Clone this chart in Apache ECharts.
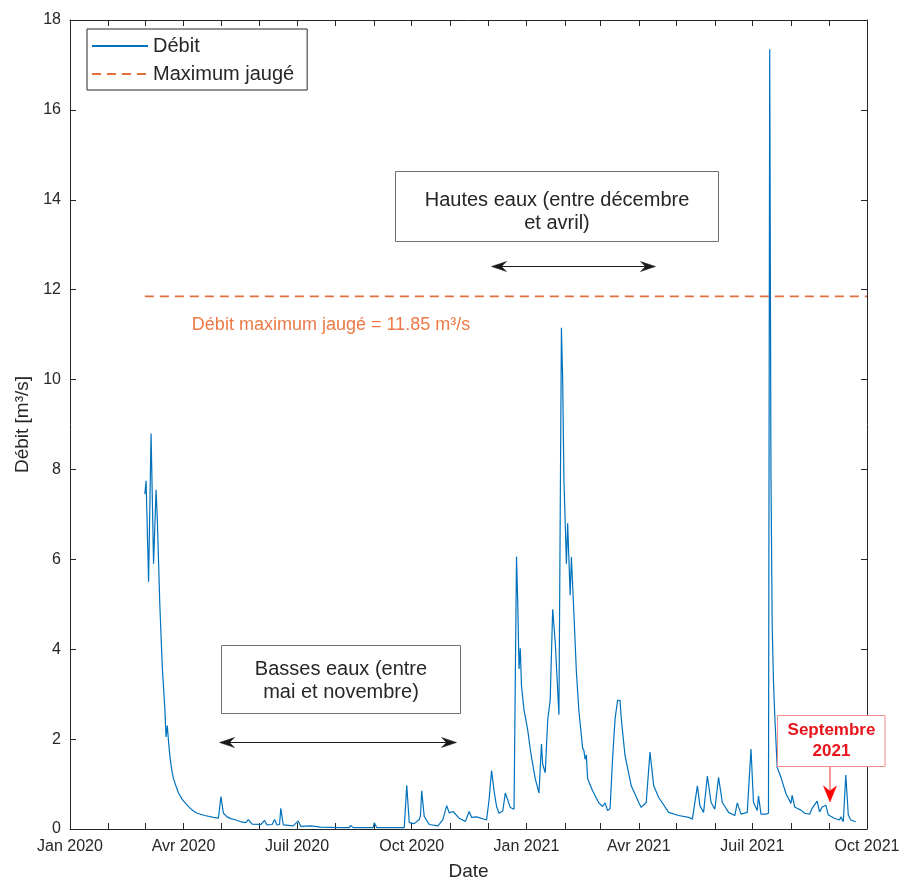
<!DOCTYPE html>
<html><head><meta charset="utf-8">
<script src="https://cdn.jsdelivr.net/npm/echarts@6/dist/echarts.min.js"></script>
<style>html,body{margin:0;padding:0;background:#fff}#c{width:904px;height:886px}</style>
</head><body><div id="c"></div>
<script>
// ---- data ----
const flowDates = [
'2020-03-01','2020-03-02','2020-03-04','2020-03-06','2020-03-08','2020-03-10','2020-03-11','2020-03-13','2020-03-15','2020-03-17',
'2020-03-18','2020-03-19','2020-03-20','2020-03-21','2020-03-22','2020-03-23','2020-03-24','2020-03-26','2020-03-28','2020-03-31',
'2020-04-03','2020-04-06','2020-04-09','2020-04-12','2020-04-18',
'2020-04-25','2020-04-29','2020-05-01','2020-05-03','2020-05-06','2020-05-09','2020-05-10','2020-05-13','2020-05-17','2020-05-21',
'2020-05-23','2020-05-26','2020-06-02','2020-06-05','2020-06-07','2020-06-11','2020-06-13','2020-06-15','2020-06-17','2020-06-18',
'2020-06-20','2020-06-28','2020-07-02','2020-07-04','2020-07-12','2020-07-20','2020-08-05','2020-08-12','2020-08-13','2020-08-15',
'2020-08-31','2020-09-01','2020-09-03','2020-09-25','2020-09-27','2020-09-29','2020-10-03','2020-10-07','2020-10-08','2020-10-09',
'2020-10-11','2020-10-15','2020-10-22','2020-10-26','2020-10-29','2020-10-31','2020-11-03','2020-11-08','2020-11-13','2020-11-16',
'2020-11-18','2020-11-22','2020-11-30','2020-12-02','2020-12-04','2020-12-06','2020-12-08','2020-12-10','2020-12-13','2020-12-15','2020-12-19',
'2020-12-22','2020-12-24','2020-12-25','2020-12-26','2020-12-27','2020-12-28','2020-12-30','2021-01-02','2021-01-04','2021-01-06','2021-01-08','2021-01-11','2021-01-13',
'2021-01-14','2021-01-16','2021-01-18','2021-01-20','2021-01-22','2021-01-24','2021-01-27','2021-01-29','2021-01-30','2021-01-31',
'2021-02-02','2021-02-03','2021-02-05','2021-02-06','2021-02-08','2021-02-10','2021-02-12','2021-02-15','2021-02-16','2021-02-17','2021-02-18',
'2021-02-19','2021-02-23','2021-02-28','2021-03-03','2021-03-05','2021-03-07','2021-03-09','2021-03-11','2021-03-13','2021-03-15',
'2021-03-17','2021-03-18','2021-03-21','2021-03-26','2021-04-01','2021-04-03','2021-04-07','2021-04-10','2021-04-13','2021-04-17',
'2021-04-25','2021-05-03','2021-05-11','2021-05-14','2021-05-18','2021-05-20','2021-05-23','2021-05-26','2021-05-29','2021-06-01',
'2021-06-04','2021-06-07','2021-06-12','2021-06-17','2021-06-19','2021-06-22','2021-06-27','2021-06-30','2021-07-02','2021-07-05',
'2021-07-06','2021-07-08','2021-07-12','2021-07-14','2021-07-15','2021-07-16','2021-07-17','2021-07-18','2021-07-19','2021-07-21',
'2021-07-24','2021-07-28','2021-08-01','2021-08-02','2021-08-04','2021-08-06','2021-08-09','2021-08-12','2021-08-16','2021-08-18',
'2021-08-22','2021-08-24','2021-08-26','2021-08-29','2021-08-31','2021-09-05','2021-09-09','2021-09-10','2021-09-12','2021-09-14',
'2021-09-16','2021-09-18','2021-09-22'
];
const flowValues = [
7.45,7.75,5.5,8.8,5.9,7.55,6.9,5.0,3.6,2.7,
2.05,2.3,1.95,1.65,1.42,1.25,1.12,0.95,0.8,0.66,
0.56,0.47,0.4,0.35,0.3,
0.26,0.24,0.72,0.35,0.27,0.23,0.27,0.2,0.16,0.14,
0.21,0.11,0.1,0.19,0.09,0.1,0.21,0.09,0.1,0.46,
0.09,0.07,0.18,0.06,0.07,0.04,0.03,0.03,0.08,0.03,
0.03,0.14,0.03,0.03,0.97,0.14,0.12,0.21,0.3,0.85,
0.28,0.1,0.07,0.21,0.52,0.36,0.39,0.24,0.17,0.39,
0.26,0.27,0.2,0.65,1.3,0.85,0.5,0.35,0.4,0.8,0.48,
0.44,6.06,5.0,3.56,4.02,3.18,2.65,2.2,1.78,1.44,1.12,0.8,1.89,
1.44,1.25,2.42,2.88,4.89,4.17,2.54,11.15,10.0,7.8,
5.9,6.8,5.2,6.05,4.8,3.5,2.63,1.8,1.75,1.55,1.65,
1.12,0.85,0.58,0.5,0.58,0.41,0.45,1.56,2.45,2.86,
2.86,2.45,1.63,0.96,0.59,0.48,0.59,1.71,0.96,0.7,
0.37,0.3,0.26,0.22,0.96,0.52,0.37,1.18,0.59,0.44,
1.15,0.59,0.37,0.3,0.58,0.33,0.37,1.78,0.59,0.41,
0.74,0.33,0.33,0.35,17.35,7.9,4.5,3.3,2.55,1.37,
1.15,0.79,0.57,0.75,0.49,0.46,0.42,0.35,0.33,0.46,
0.62,0.38,0.49,0.53,0.31,0.24,0.2,0.27,0.16,1.2,
0.31,0.2,0.16
];
const maxDates = ['2020-03-01','2021-10-01'];
const maxValues = [11.85, 11.85];
const seriesNames = ['Débit','Maximum jaugé'];
const tickLabels = ['Jan 2020','Avr 2020','Juil 2020','Oct 2020','Jan 2021','Avr 2021','Juil 2021','Oct 2021'];
const labelDates = ['2020-01-01','2020-04-01','2020-07-01','2020-10-01','2021-01-01','2021-04-01','2021-07-01','2021-10-01'];
const xMinDate = '2020-01-01', xMaxDate = '2021-10-01';
const yMin = 0, yMax = 18, yStep = 2;

// ---- helpers ----
function ts(s){ const p = s.split('-').map(Number); return new Date(p[0], p[1]-1, p[2]).getTime(); }
const monthTicks = [];
for (let t = new Date(2020,0,1); t.getTime() <= ts(xMaxDate); t = new Date(t.getFullYear(), t.getMonth()+1, 1)) monthTicks.push(t.getTime());
const labelTs = labelDates.map(ts);
function fmt(v){ for (let i=0;i<labelTs.length;i++){ if (Math.abs(labelTs[i]-v) < 43200000) return tickLabels[i]; } return ''; }

const F = '"Liberation Sans", Arial, Helvetica, sans-serif';
const AX = '#262626';
const BLUE = '#0072BD';
const ORANGE = '#E0703C';

function arrowHead(tx, ty, dx, dy, len, half, notch, color){
  const px = -dy, py = dx;
  const bx = tx - dx*len, by = ty - dy*len;
  const nx = tx - dx*notch, ny = ty - dy*notch;
  return {type:'polygon', z:102, shape:{points:[[tx,ty],[bx+px*half,by+py*half],[nx,ny],[bx-px*half,by-py*half]]}, style:{fill:color, stroke:color, lineWidth:0.5}};
}
function doubleArrow(x1, x2, y, color){
  return [
    {type:'line', z:101, shape:{x1:x1+8, y1:y, x2:x2-8, y2:y}, style:{stroke:color, lineWidth:1}},
    arrowHead(x1, y, -1, 0, 15, 5, 10, color),
    arrowHead(x2, y, 1, 0, 15, 5, 10, color)
  ];
}
function textBox(x, y, w, h, text, cy, stroke){
  return [
    {type:'rect', z:100, shape:{x:x, y:y, width:w, height:h}, style:{fill:'#fff', stroke:stroke, lineWidth:1}},
    {type:'text', z:101, style:{text:text, x:x+w/2, y:cy, align:'center', verticalAlign:'middle', fontSize:20, fontFamily:F, lineHeight:23, fill:AX}}
  ];
}

const chart = echarts.init(document.getElementById('c'), null, {renderer:'canvas'});
const xCommon = {
  type:'value', min: ts(xMinDate), max: ts(xMaxDate), scale:true,
  axisLine:{show:true, onZero:false, lineStyle:{color:AX, width:1}},
  splitLine:{show:false}
};
const yCommon = {
  type:'value', min:yMin, max:yMax, interval:yStep,
  axisLine:{show:true, lineStyle:{color:AX, width:1}},
  splitLine:{show:false}
};

const option = {
  animation:false,
  backgroundColor:'#fff',
  grid:{left:70, right:37, top:20, bottom:56, containLabel:false},
  legend:{
    data:seriesNames, orient:'vertical', left:87, top:29,
    backgroundColor:'#fff', borderColor:AX, borderWidth:1, borderRadius:0,
    padding:[5,13,4,4], itemGap:4, itemWidth:56, itemHeight:14,
    itemStyle:{opacity:0, borderWidth:0},
    textStyle:{fontSize:20, fontFamily:F, color:AX, lineHeight:24},
    z:50
  },
  xAxis:[
    Object.assign({}, xCommon, {
      position:'bottom',
      name:'Date', nameLocation:'middle', nameGap:33,
      nameTextStyle:{fontSize:19, fontFamily:F, color:AX},
      axisTick:{show:true, inside:true, length:6, customValues:monthTicks, lineStyle:{color:AX}},
      axisLabel:{show:true, customValues:labelTs, formatter:fmt, fontSize:16, fontFamily:F, color:AX, margin:10, hideOverlap:false}
    }),
    Object.assign({}, xCommon, {
      position:'top',
      axisTick:{show:true, inside:true, length:6, customValues:monthTicks, lineStyle:{color:AX}},
      axisLabel:{show:false}
    })
  ],
  yAxis:[
    Object.assign({}, yCommon, {
      position:'left',
      name:'Débit [m³/s]', nameLocation:'middle', nameGap:36,
      nameTextStyle:{fontSize:19, fontFamily:F, color:AX},
      axisTick:{show:true, inside:true, length:6, lineStyle:{color:AX}},
      axisLabel:{fontSize:16, fontFamily:F, color:AX, margin:9}
    }),
    Object.assign({}, yCommon, {
      position:'right',
      axisTick:{show:true, inside:true, length:6, lineStyle:{color:AX}},
      axisLabel:{show:false}
    })
  ],
  series:[
    {
      name:seriesNames[0], type:'line', xAxisIndex:0, yAxisIndex:0,
      data: flowDates.map((d,i)=>[ts(d), flowValues[i]]),
      symbol:'none', showSymbol:false, smooth:false,
      lineStyle:{color:BLUE, width:1.2}, itemStyle:{color:BLUE}, z:3
    },
    {
      name:seriesNames[1], type:'line', xAxisIndex:0, yAxisIndex:0,
      data: maxDates.map((d,i)=>[ts(d), maxValues[i]]),
      symbol:'none', showSymbol:false,
      lineStyle:{color:ORANGE, width:1.6, type:[9,6]}, itemStyle:{color:ORANGE}, z:4
    }
  ],
  graphic:[].concat(
    textBox(395.5, 171.5, 323, 70, 'Hautes eaux (entre décembre\net avril)', 211.5, '#707070'),
    doubleArrow(491.5, 655.5, 266.5, '#1a1a1a'),
    textBox(221.5, 645.5, 239, 68, 'Basses eaux (entre\nmai et novembre)', 681, '#707070'),
    doubleArrow(219.5, 456.5, 742.5, '#1a1a1a'),
    [
      {type:'text', z:101, style:{text:'Débit maximum jaugé = 11.85 m³/s', x:331, y:325, align:'center', verticalAlign:'middle', fontSize:18, fontFamily:F, fill:'#EC7A46'}},
      {type:'rect', z:100, shape:{x:777.5, y:715.5, width:107.5, height:51}, style:{fill:'#fff', stroke:'#F08C8C', lineWidth:1}},
      {type:'text', z:101, style:{text:'Septembre', x:831.5, y:730, align:'center', verticalAlign:'middle', fontSize:17, fontWeight:'bold', fontFamily:F, fill:'#E8131B'}},
      {type:'text', z:101, style:{text:'2021', x:831.5, y:751, align:'center', verticalAlign:'middle', fontSize:17, fontWeight:'bold', fontFamily:F, fill:'#E8131B'}},
      {type:'line', z:101, shape:{x1:830, y1:767, x2:830, y2:792}, style:{stroke:'#F03030', lineWidth:1}},
      arrowHead(830, 802, 0, 1, 16, 6.5, 11, '#FF0000')
    ]
  )
};
chart.setOption(option);
</script>
</body></html>
